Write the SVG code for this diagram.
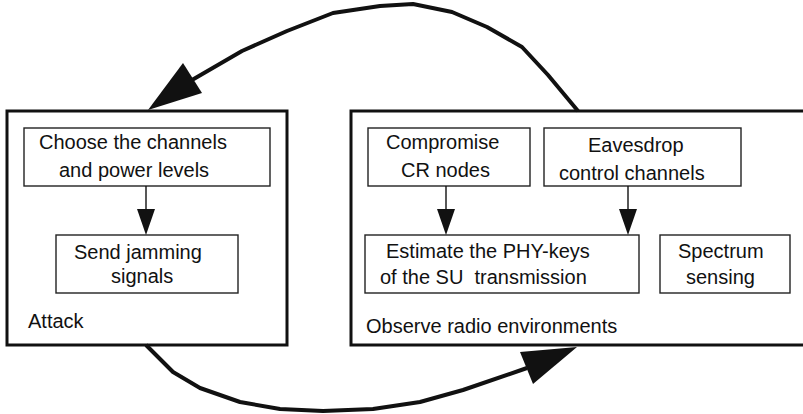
<svg xmlns="http://www.w3.org/2000/svg" width="803" height="414" viewBox="0 0 803 414">
<style>
.big{fill:#fff;stroke:#111;stroke-width:3}
.box{fill:#fff;stroke:#222;stroke-width:1.4}
text{font-family:"Liberation Sans",Arial,sans-serif;font-size:20px;fill:#111}
.conn{fill:none;stroke:#111;stroke-width:4;stroke-linejoin:round}
.thin{fill:none;stroke:#111;stroke-width:1.4}
.head{fill:#111;stroke:none}
</style>
<rect width="803" height="414" fill="#fff"/>
<g id="attack">
<rect class="big" x="7" y="111" width="280" height="234"/>
<text x="28" y="328">Attack</text>
</g>
<g id="observe">
<path class="big" d="M806,111 H351 V345 H806"/>
<text x="366" y="333">Observe radio environments</text>
</g>
<g id="choose">
<rect class="box" x="24" y="128" width="246" height="58"/>
<text x="39" y="149">Choose the channels</text>
<text x="59" y="177">and power levels</text>
</g>
<g id="send">
<rect class="box" x="56" y="235" width="182" height="58"/>
<text x="74" y="259">Send jamming</text>
<text x="111" y="283">signals</text>
</g>
<g id="compromise">
<rect class="box" x="368" y="128" width="162" height="58"/>
<text x="386" y="149">Compromise</text>
<text x="401" y="177">CR nodes</text>
</g>
<g id="eavesdrop">
<rect class="box" x="544" y="128" width="197" height="58"/>
<text x="588" y="152">Eavesdrop</text>
<text x="559" y="180">control channels</text>
</g>
<g id="estimate">
<rect class="box" x="365" y="235" width="274" height="58"/>
<text x="386" y="258">Estimate the PHY-keys</text>
<text x="380" y="284" xml:space="preserve">of the SU  transmission</text>
</g>
<g id="spectrum">
<rect class="box" x="660" y="235" width="130" height="58"/>
<text x="678" y="258">Spectrum</text>
<text x="686" y="284">sensing</text>
</g>
<g id="connectors">
<line class="thin" x1="146" y1="186" x2="146" y2="212"/>
<polygon class="head" points="137,209 155,209 146,235"/>
<line class="thin" x1="446" y1="186" x2="446" y2="212"/>
<polygon class="head" points="437,209 455,209 446,235"/>
<line class="thin" x1="628" y1="186" x2="628" y2="212"/>
<polygon class="head" points="619,209 637,209 628,235"/>
<polyline class="conn" points="578,111 548,75 522,47 487,27 452,12 413,4 380,6 333,13 287,31 242,51 192,80"/>
<polygon class="head" points="148,110 183,63 202,93"/>
<polyline class="conn" points="146,345 173,372 200,388 240,402 280,409 323,411 373,409 420,402 463,390 527,368"/>
<polygon class="head" points="577,347 520,352 533,384"/>
</g>
</svg>
